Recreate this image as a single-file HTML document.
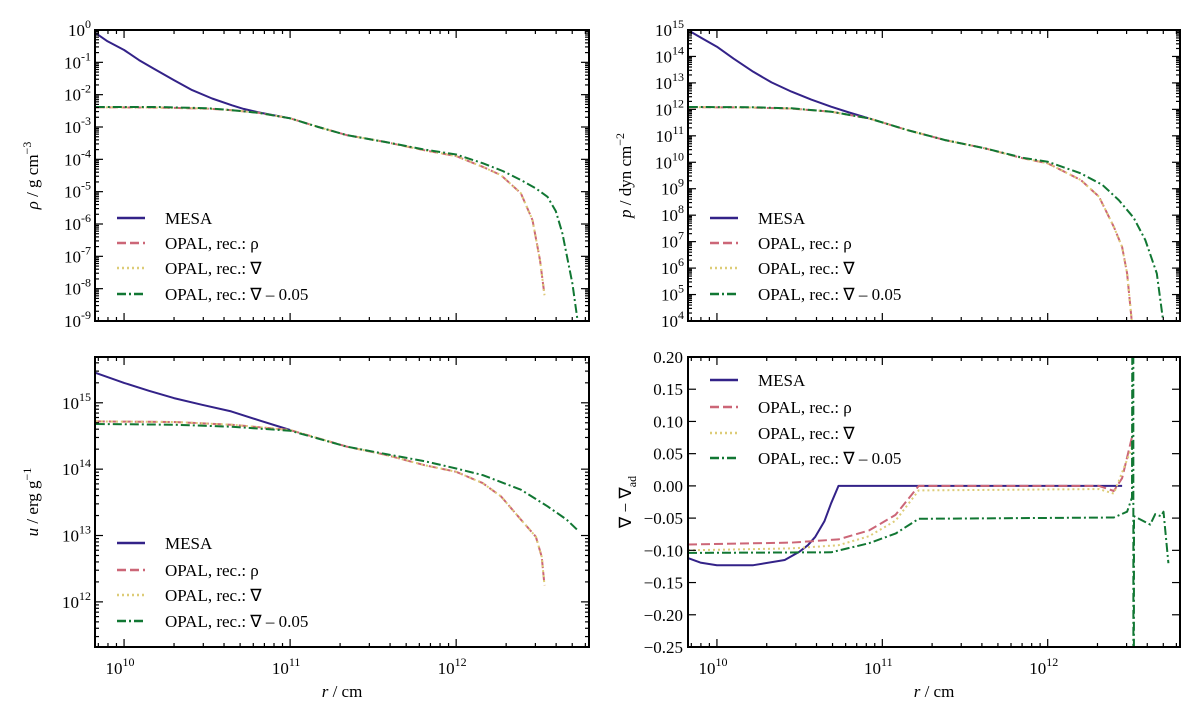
<!DOCTYPE html>
<html><head><meta charset="utf-8"><style>
html,body{margin:0;padding:0;background:#fff;width:1200px;height:721px;overflow:hidden;}
svg{display:block;font-family:"Liberation Serif",serif;}
</style></head><body>
<svg id="fig" width="1200" height="721" viewBox="0 0 1200 721" xmlns="http://www.w3.org/2000/svg"></svg>
<script>
// x values are log10(r/cm); y values are log10 of the quantity (or linear for nabla panel)
const rhoMesaX=[9.83,9.9,10.0,10.09,10.18,10.3,10.41,10.53,10.65,10.72,10.81,11.0];
const rhoMesaY=[-0.10,-0.35,-0.62,-0.93,-1.20,-1.55,-1.86,-2.12,-2.33,-2.44,-2.55,-2.73];
const rhoOpalX=[9.83,10.2,10.5,10.65,10.81,11.0,11.17,11.34,11.57,11.81,12.0,12.16,12.27,12.39,12.46,12.505,12.532];
const rhoOpalY=[-2.39,-2.40,-2.43,-2.48,-2.56,-2.73,-3.0,-3.25,-3.46,-3.72,-3.9,-4.23,-4.49,-5.05,-5.88,-7.12,-8.2];
const rhoGreenX=[9.83,10.2,10.5,10.65,10.81,11.0,11.17,11.34,11.57,11.81,12.0,12.16,12.28,12.39,12.48,12.55,12.60,12.64,12.70,12.74];
const rhoGreenY=[-2.38,-2.38,-2.42,-2.48,-2.56,-2.73,-3.0,-3.25,-3.46,-3.70,-3.85,-4.12,-4.36,-4.64,-4.90,-5.16,-5.6,-6.29,-7.84,-9.3];

const pMesaX=[9.84,9.92,10.0,10.1,10.22,10.33,10.45,10.57,10.69,10.8,10.92];
const pMesaY=[14.94,14.65,14.37,13.92,13.42,13.02,12.67,12.37,12.10,11.88,11.66];
const pOpalX=[9.83,10.2,10.45,10.69,10.92,11.15,11.38,11.62,11.85,12.0,12.20,12.31,12.40,12.45,12.48,12.51];
const pOpalY=[12.08,12.07,12.03,11.91,11.66,11.22,10.84,10.53,10.15,9.96,9.33,8.7,7.56,6.8,5.8,3.9];
const pGreenX=[9.83,10.2,10.45,10.69,10.92,11.15,11.38,11.62,11.85,12.0,12.20,12.33,12.43,12.52,12.59,12.66,12.70];
const pGreenY=[12.09,12.08,12.04,11.91,11.66,11.22,10.84,10.53,10.17,10.02,9.58,9.15,8.57,7.9,7.06,5.8,3.9];

const uMesaX=[9.83,10.0,10.15,10.30,10.47,10.645,10.82,11.0];
const uMesaY=[15.45,15.30,15.18,15.07,14.97,14.87,14.73,14.59];
const uOpalX=[9.83,10.3,10.645,11.0,11.34,11.57,11.81,12.0,12.16,12.27,12.39,12.48,12.515,12.532];
const uOpalY=[14.72,14.71,14.67,14.59,14.34,14.22,14.06,13.96,13.79,13.59,13.24,12.98,12.68,12.25];
const uGreenX=[9.83,10.3,10.645,11.0,11.34,11.57,11.81,12.0,12.16,12.39,12.55,12.665,12.74];
const uGreenY=[14.68,14.67,14.64,14.58,14.34,14.23,14.12,14.01,13.91,13.69,13.44,13.24,13.06];

const nMesaX=[9.825,9.9,10.0,10.22,10.41,10.50,10.55,10.595,10.65,10.69,10.735,12.45];
const nMesaY=[-0.112,-0.119,-0.123,-0.123,-0.115,-0.102,-0.092,-0.079,-0.055,-0.027,0.0,0.0];
const nRhoX=[9.825,10.45,10.735,10.92,11.08,11.22,12.31,12.40,12.45,12.51];
const nRhoY=[-0.091,-0.088,-0.083,-0.069,-0.045,0.0,0.0,-0.008,0.012,0.076];
const nGradX=[9.825,10.45,10.735,10.92,11.08,11.22,12.31,12.40,12.51];
const nGradY=[-0.100,-0.097,-0.092,-0.078,-0.054,-0.007,-0.005,-0.012,0.06];
const nGreenX=[9.825,10.69,10.92,11.08,11.22,12.40,12.48,12.51,12.517,12.519,12.522,12.62,12.65,12.685,12.70,12.73];
const nGreenY=[-0.104,-0.103,-0.089,-0.074,-0.051,-0.049,-0.04,-0.018,1.0,-1.0,-0.047,-0.06,-0.044,-0.047,-0.04,-0.12];

const xTickExps=[10,11,12];
const legendLabels=["MESA","OPAL, rec.: \u03c1","OPAL, rec.: \u2207","OPAL, rec.: \u2207 \u2013 0.05"];
const nablaTicks=[0.20,0.15,0.10,0.05,0.00,-0.05,-0.10,-0.15,-0.20,-0.25];

const NS="http://www.w3.org/2000/svg";
const svg=document.getElementById('fig');
const COLORS=["#332288","#cc6677","#ddcc77","#117733"];
const DASH=["none","9,4","2,3","9,3,2,3"];
function mk(tag,attrs,parent){const e=document.createElementNS(NS,tag);for(const k in attrs)e.setAttribute(k,attrs[k]);(parent||svg).appendChild(e);return e;}

const XMIN=9.825,XMAX=12.80;
function panel(name,box,ylog,ymin,ymax,series,ylabel,yticks,legendPos,showX){
  const g=mk('g',{});
  
  
  const sx=v=>box.x0+(v-XMIN)/(XMAX-XMIN)*(box.x1-box.x0);
  const sy=v=>box.y1-(v-ymin)/(ymax-ymin)*(box.y1-box.y0);
  const cid='clip-'+name;
  const cp=mk('clipPath',{id:cid},g);
  mk('rect',{x:box.x0,y:box.y0,width:box.x1-box.x0,height:box.y1-box.y0},cp);
  series.forEach((s,i)=>{
    let d='';
    s.x.forEach((xv,j)=>{d+=(j?'L':'M')+sx(xv).toFixed(1)+','+sy(s.y[j]).toFixed(1);});
    const p=mk('path',{d:d,fill:'none',stroke:COLORS[i],'stroke-width':2,'stroke-linejoin':'round','stroke-dasharray':DASH[i],'clip-path':'url(#'+cid+')'},g);
    
    
  });
  const fr=mk('rect',{x:box.x0,y:box.y0,width:box.x1-box.x0,height:box.y1-box.y0,fill:'none',stroke:'#000','stroke-width':2},g);
  
  
  for(let e=9;e<=12;e++){for(let m=1;m<10;m++){const v=e+Math.log10(m);if(v<XMIN||v>XMAX)continue;const L=m==1?8:4;const X=sx(v);
    mk('line',{x1:X,x2:X,y1:box.y1,y2:box.y1-L,stroke:'#000','stroke-width':1.2},g);
    mk('line',{x1:X,x2:X,y1:box.y0,y2:box.y0+L,stroke:'#000','stroke-width':1.2},g);}}
  if(showX){
    xTickExps.forEach(e=>{const t=mk('text',{x:sx(e)-4,y:box.y1+27,'font-size':17,'text-anchor':'middle'},g);
      
      
      t.textContent='10';const s=mk('tspan',{dy:-8,'font-size':12},t);s.textContent=e;});
    const xl=mk('text',{x:(box.x0+box.x1)/2,y:box.y1+50,'font-size':17,'text-anchor':'middle'},g);
    
    
    xl.innerHTML='<tspan font-style="italic">r</tspan> / cm';
  }
  if(ylog){
    for(let e=Math.floor(ymin);e<=Math.ceil(ymax);e++){for(let m=1;m<10;m++){const v=e+Math.log10(m);if(v<ymin-1e-6||v>ymax+1e-6)continue;const L=m==1?8:4;const Y=sy(v);
      mk('line',{x1:box.x0,x2:box.x0+L,y1:Y,y2:Y,stroke:'#000','stroke-width':1.2},g);
      mk('line',{x1:box.x1,x2:box.x1-L,y1:Y,y2:Y,stroke:'#000','stroke-width':1.2},g);}}
    yticks.forEach(e=>{const t=mk('text',{x:box.x0-16,y:sy(e)+6,'font-size':17,'text-anchor':'end'},g);
      
      
      t.textContent='10';const s=mk('tspan',{dy:-8,'font-size':12,'text-anchor':'start'},t);s.textContent=e;
      t.setAttribute('x',box.x0-4);});
  } else {
    yticks.forEach(v=>{const Y=sy(v);
      mk('line',{x1:box.x0,x2:box.x0+8,y1:Y,y2:Y,stroke:'#000','stroke-width':1.2},g);
      mk('line',{x1:box.x1,x2:box.x1-8,y1:Y,y2:Y,stroke:'#000','stroke-width':1.2},g);
      const t=mk('text',{x:box.x0-5,y:Y+6,'font-size':17,'text-anchor':'end'},g);
      
      
      t.textContent=(v<0?'\u2212':'')+Math.abs(v).toFixed(2);});
  }
  const yl=mk('text',{x:0,y:0,'font-size':17,'text-anchor':'middle',transform:'translate('+(box.x0-57)+','+((box.y0+box.y1)/2)+') rotate(-90)'},g);
  
  
  yl.innerHTML=ylabel;
  legendPos.rows.forEach((ry,i)=>{
    const lg=mk('g',{},g);
    
    
    mk('line',{x1:legendPos.x,x2:legendPos.x+28,y1:ry,y2:ry,stroke:COLORS[i],'stroke-width':2.5,'stroke-dasharray':DASH[i]},lg);
    const t=mk('text',{x:legendPos.x+48,y:ry+6,'font-size':17},lg);
    t.textContent=legendLabels[i];
  });
}
const L={x0:95,x1:589},R={x0:688,x1:1180},T={y0:30,y1:321},B={y0:357,y1:647};
const lx=117,rx=710;
panel('density-panel',{x0:L.x0,x1:L.x1,y0:T.y0,y1:T.y1},true,-9,0,
 [{n:'mesa',x:rhoMesaX,y:rhoMesaY},{n:'opal-rho',x:rhoOpalX,y:rhoOpalY},{n:'opal-nabla',x:rhoOpalX,y:rhoOpalY},{n:'opal-nabla-shift',x:rhoGreenX,y:rhoGreenY}],
 '<tspan font-style="italic">\u03c1</tspan> / g cm<tspan dy="-7" font-size="12">\u22123</tspan>',[0,-1,-2,-3,-4,-5,-6,-7,-8,-9],{x:lx,rows:[218,243,268,294]},false);
panel('pressure-panel',{x0:R.x0,x1:R.x1,y0:T.y0,y1:T.y1},true,4,15,
 [{n:'mesa',x:pMesaX,y:pMesaY},{n:'opal-rho',x:pOpalX,y:pOpalY},{n:'opal-nabla',x:pOpalX,y:pOpalY},{n:'opal-nabla-shift',x:pGreenX,y:pGreenY}],
 '<tspan font-style="italic">p</tspan> / dyn cm<tspan dy="-7" font-size="12">\u22122</tspan>',[15,14,13,12,11,10,9,8,7,6,5,4],{x:rx,rows:[218,243,268,294]},false);
panel('energy-panel',{x0:L.x0,x1:L.x1,y0:B.y0,y1:B.y1},true,11.32,15.69,
 [{n:'mesa',x:uMesaX,y:uMesaY},{n:'opal-rho',x:uOpalX,y:uOpalY},{n:'opal-nabla',x:uOpalX,y:uOpalY},{n:'opal-nabla-shift',x:uGreenX,y:uGreenY}],
 '<tspan font-style="italic">u</tspan> / erg g<tspan dy="-7" font-size="12">\u22121</tspan>',[15,14,13,12],{x:lx,rows:[543,570,595,621]},true);
panel('gradient-panel',{x0:R.x0,x1:R.x1,y0:B.y0,y1:B.y1},false,-0.25,0.20,
 [{n:'mesa',x:nMesaX,y:nMesaY},{n:'opal-rho',x:nRhoX,y:nRhoY},{n:'opal-nabla',x:nGradX,y:nGradY},{n:'opal-nabla-shift',x:nGreenX,y:nGreenY}],
 '\u2207 \u2212 \u2207<tspan dy="5" font-size="12">ad</tspan>',nablaTicks,{x:rx,rows:[380,407,433,458]},true);
</script>
</body></html>
